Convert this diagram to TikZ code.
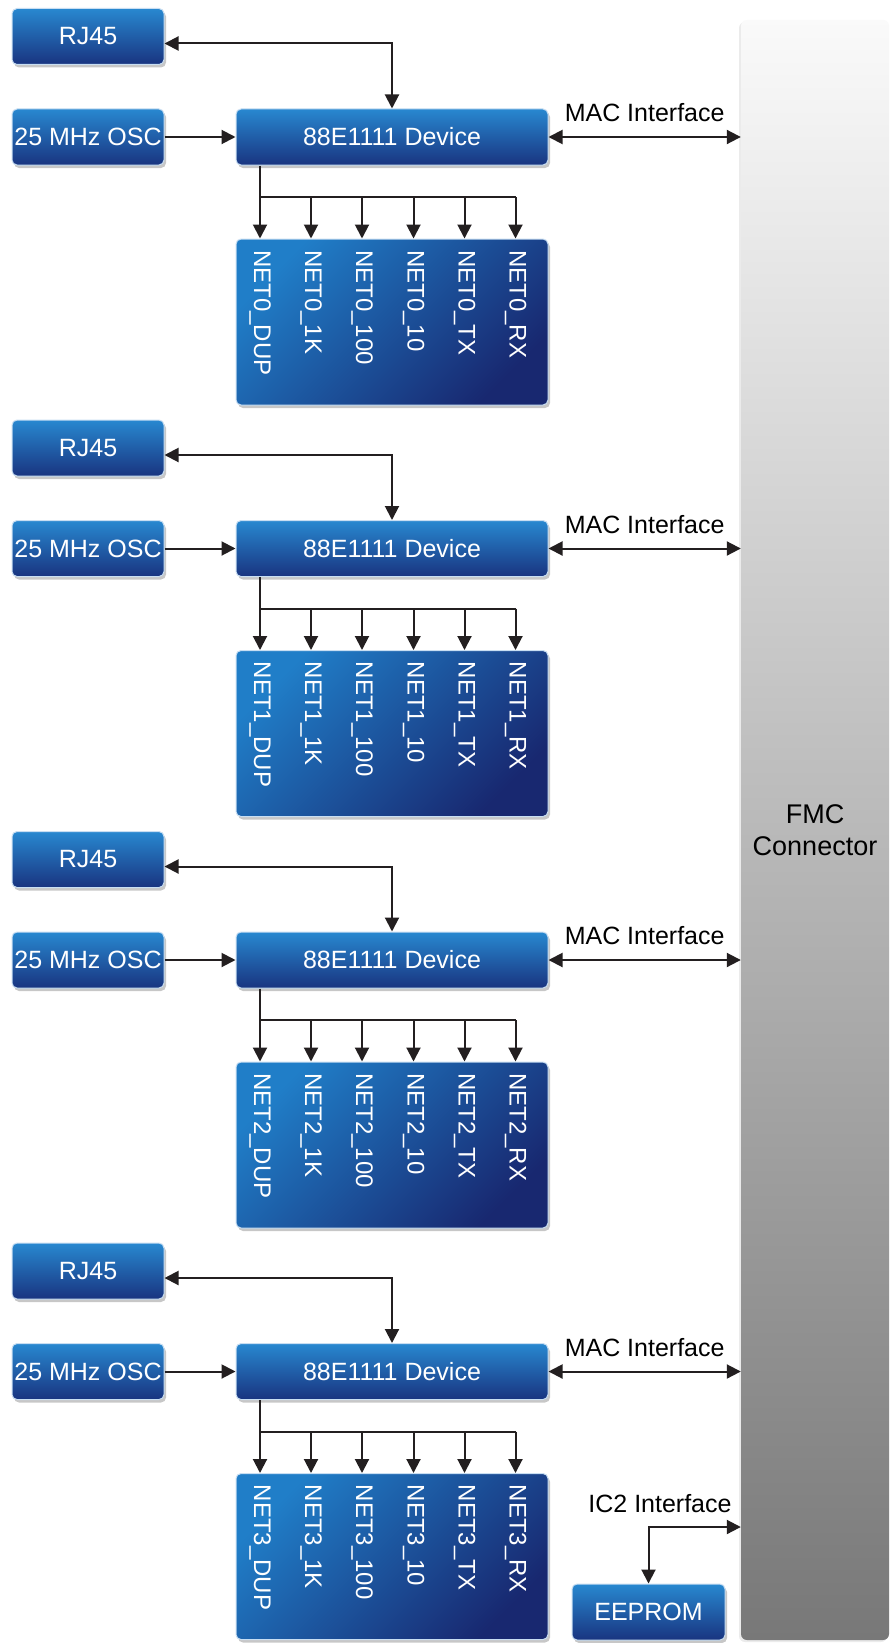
\documentclass[tikz,border=0pt]{standalone}
\usepackage{fontspec}
\setmainfont{Liberation Sans}
\usetikzlibrary{arrows.meta,shadows}
\definecolor{blktop}{RGB}{40,136,208}
\definecolor{blkbot}{RGB}{25,52,128}
\definecolor{nettop}{RGB}{32,126,200}
\definecolor{netbot}{RGB}{24,40,112}
\definecolor{wirecol}{RGB}{35,31,32}
\definecolor{rim}{RGB}{200,222,242}
\tikzstyle{every node}+=[inner sep=0pt]
\tikzstyle{blk}=[rectangle, rounded corners=5pt, draw=rim, line width=1pt, top color=blktop, bottom color=blkbot, text=white, font=\fontsize{25}{30}\selectfont, minimum width=152pt, minimum height=56pt, drop shadow={shadow xshift=2pt, shadow yshift=-3pt, opacity=0.22, fill=black}]
\tikzstyle{netbox}=[blk, top color=nettop, bottom color=netbot, shading angle=45, minimum width=312pt, minimum height=166pt]
\tikzstyle{netlbl}=[text=white, font=\fontsize{24}{28}\selectfont, rotate=-90, anchor=west]
\tikzstyle{lbl}=[text=black, font=\fontsize{25}{30}\selectfont]
\tikzstyle{fmcbox}=[rectangle, rounded corners=6pt, top color=black!2, middle color=black!24, bottom color=black!53, minimum width=148pt, minimum height=1620pt, align=center, font=\fontsize{27}{32}\selectfont, drop shadow={shadow xshift=-2pt, shadow yshift=-2pt, opacity=0.08, fill=black}]
\tikzstyle{wire}=[draw=wirecol, line width=2pt]
\tikzstyle{arr}=[wire, -{Triangle[length=14pt,width=14pt]}]
\tikzstyle{biarr}=[wire, {Triangle[length=14pt,width=14pt]}-{Triangle[length=14pt,width=14pt]}]

\begin{document}
\begin{tikzpicture}[x=1pt, y=-1pt]
\fill[white] (0,0) rectangle (891,1643);
\useasboundingbox (0,0) rectangle (891,1643);

\node[fmcbox] (fmc) at (815,830) {FMC\\Connector};

% port 0
\node[blk] (rj0) at (88,36.5) {RJ45};
\node[blk] (osc0) at (88,137) {25 MHz OSC};
\node[blk, minimum width=312pt] (dev0) at (392,137) {88E1111 Device};
\node[netbox] (net0) at (392,322) {};
\node[netlbl] (n0a) at (260,250) {NET0\_DUP};
\node[netlbl] (n0b) at (311,250) {NET0\_1K};
\node[netlbl] (n0c) at (362,250) {NET0\_100};
\node[netlbl] (n0d) at (413.5,250) {NET0\_10};
\node[netlbl] (n0e) at (464.5,250) {NET0\_TX};
\node[netlbl] (n0f) at (515.5,250) {NET0\_RX};
\coordinate (br0) at (260,197);
\draw[biarr] ([yshift=-7pt]rj0.east) -| (dev0.north);
\draw[arr] (osc0) -- (dev0);
\draw[biarr] (dev0) -- node[lbl, above=14pt] (mac0) {MAC Interface} (dev0 -| fmc.west);
\draw[wire] (dev0.south -| br0) -- (br0) -- (br0 -| n0f);
\foreach \n in {a,b,c,d,e,f} \draw[arr] (br0 -| n0\n) -- (net0.north -| n0\n);

% port 1
\node[blk] (rj1) at (88,448) {RJ45};
\node[blk] (osc1) at (88,548.5) {25 MHz OSC};
\node[blk, minimum width=312pt] (dev1) at (392,548.5) {88E1111 Device};
\node[netbox] (net1) at (392,733.5) {};
\node[netlbl] (n1a) at (260,661.5) {NET1\_DUP};
\node[netlbl] (n1b) at (311,661.5) {NET1\_1K};
\node[netlbl] (n1c) at (362,661.5) {NET1\_100};
\node[netlbl] (n1d) at (413.5,661.5) {NET1\_10};
\node[netlbl] (n1e) at (464.5,661.5) {NET1\_TX};
\node[netlbl] (n1f) at (515.5,661.5) {NET1\_RX};
\coordinate (br1) at (260,608.5);
\draw[biarr] ([yshift=-7pt]rj1.east) -| (dev1.north);
\draw[arr] (osc1) -- (dev1);
\draw[biarr] (dev1) -- node[lbl, above=14pt] (mac1) {MAC Interface} (dev1 -| fmc.west);
\draw[wire] (dev1.south -| br1) -- (br1) -- (br1 -| n1f);
\foreach \n in {a,b,c,d,e,f} \draw[arr] (br1 -| n1\n) -- (net1.north -| n1\n);

% port 2
\node[blk] (rj2) at (88,859.5) {RJ45};
\node[blk] (osc2) at (88,960) {25 MHz OSC};
\node[blk, minimum width=312pt] (dev2) at (392,960) {88E1111 Device};
\node[netbox] (net2) at (392,1145) {};
\node[netlbl] (n2a) at (260,1073) {NET2\_DUP};
\node[netlbl] (n2b) at (311,1073) {NET2\_1K};
\node[netlbl] (n2c) at (362,1073) {NET2\_100};
\node[netlbl] (n2d) at (413.5,1073) {NET2\_10};
\node[netlbl] (n2e) at (464.5,1073) {NET2\_TX};
\node[netlbl] (n2f) at (515.5,1073) {NET2\_RX};
\coordinate (br2) at (260,1020);
\draw[biarr] ([yshift=-7pt]rj2.east) -| (dev2.north);
\draw[arr] (osc2) -- (dev2);
\draw[biarr] (dev2) -- node[lbl, above=14pt] (mac2) {MAC Interface} (dev2 -| fmc.west);
\draw[wire] (dev2.south -| br2) -- (br2) -- (br2 -| n2f);
\foreach \n in {a,b,c,d,e,f} \draw[arr] (br2 -| n2\n) -- (net2.north -| n2\n);

% port 3
\node[blk] (rj3) at (88,1271) {RJ45};
\node[blk] (osc3) at (88,1371.5) {25 MHz OSC};
\node[blk, minimum width=312pt] (dev3) at (392,1371.5) {88E1111 Device};
\node[netbox] (net3) at (392,1556.5) {};
\node[netlbl] (n3a) at (260,1484.5) {NET3\_DUP};
\node[netlbl] (n3b) at (311,1484.5) {NET3\_1K};
\node[netlbl] (n3c) at (362,1484.5) {NET3\_100};
\node[netlbl] (n3d) at (413.5,1484.5) {NET3\_10};
\node[netlbl] (n3e) at (464.5,1484.5) {NET3\_TX};
\node[netlbl] (n3f) at (515.5,1484.5) {NET3\_RX};
\coordinate (br3) at (260,1431.5);
\draw[biarr] ([yshift=-7pt]rj3.east) -| (dev3.north);
\draw[arr] (osc3) -- (dev3);
\draw[biarr] (dev3) -- node[lbl, above=14pt] (mac3) {MAC Interface} (dev3 -| fmc.west);
\draw[wire] (dev3.south -| br3) -- (br3) -- (br3 -| n3f);
\foreach \n in {a,b,c,d,e,f} \draw[arr] (br3 -| n3\n) -- (net3.north -| n3\n);

% eeprom
\node[blk, minimum width=153pt] (eep) at (648.5,1612) {EEPROM};
\coordinate (i2c) at (648.5,1527);
\node[lbl, anchor=base] (i2clbl) at (660,1512) {IC2 Interface};
\draw[biarr] (eep.north) |- (i2c -| fmc.west);
\end{tikzpicture}
\end{document}
